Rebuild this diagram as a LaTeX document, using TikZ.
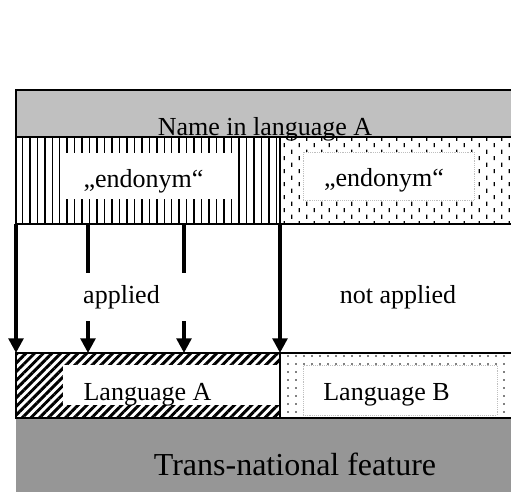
\documentclass[tikz,border=0pt]{standalone}
\usepackage{fontspec}
\setmainfont{Liberation Serif}
\usetikzlibrary{arrows.meta,patterns,patterns.meta}

\definecolor{barlight}{HTML}{C0C0C0}
\definecolor{bardark}{HTML}{969696}

% short staggered vertical dashes
\pgfdeclarepatternformonly{vdashes}{\pgfpointorigin}{\pgfpoint{11.2pt}{10pt}}{\pgfpoint{11.2pt}{10pt}}{
  \pgfsetlinewidth{1pt}
  \pgfpathmoveto{\pgfpoint{1pt}{0.6pt}}\pgfpathlineto{\pgfpoint{1pt}{3.8pt}}
  \pgfpathmoveto{\pgfpoint{6.6pt}{5.6pt}}\pgfpathlineto{\pgfpoint{6.6pt}{8.8pt}}
  \pgfusepath{stroke}}

\tikzset{
  cell/.style={draw=black, line width=1.6pt, anchor=north west, inner sep=0pt, outer sep=0pt},
  innerbox/.style={fill=white, anchor=north west, inner sep=0pt, outer sep=0pt},
  txt/.style={font=\fontsize{19.5}{22}\selectfont},
  lbl/.style={txt, anchor=base, inner sep=0pt},
  flow/.style={line width=2.6pt, -{Triangle[length=11pt,width=11pt]}},
  gapnode/.style={txt, inner sep=0pt, minimum height=36pt}
}

\begin{document}
\begin{tikzpicture}[x=0.75pt, y=-0.75pt]
        \useasboundingbox (0,0) rectangle (511,492);
        % 上部：名称
        \node[cell, fill=barlight, minimum width=374.25pt, minimum height=35.25pt] (namebar) at (16,90) {};
        \node[cell, pattern={Lines[angle=90,distance=5.6pt,line width=1.1pt]}, minimum width=198pt, minimum height=65.25pt] (endoA) at (16,137) {};
        \node[cell, pattern=vdashes, minimum width=176.25pt, minimum height=65.25pt] (endoB) at (280,137) {};
        \node[innerbox, minimum width=127.5pt, minimum height=34.5pt] (endoAin) at (63,153) {};
        \node[innerbox, draw=black!25, densely dotted, minimum width=128.25pt, minimum height=36pt] (endoBin) at (303,152) {};
        \node[lbl] (endoAlbl) at (143.5,187) {„endonym“};
        \node[lbl] (endoBlbl) at (384,186) {„endonym“};
        \node[lbl] (namelbl) at (265,136) {Name in language A};
        % 下部：语言
        \node[anchor=north west, fill=bardark, inner sep=0pt, minimum width=374.25pt, minimum height=57pt] (trans) at (16,418) {};
        \node[cell, pattern={Lines[angle=45,distance=4.6pt,line width=2.2pt]}, minimum width=198pt, minimum height=48.75pt] (langA) at (16,353) {};
        \node[cell, pattern={Dots[distance=6pt,radius=0.6pt]}, minimum width=176.25pt, minimum height=48.75pt] (langB) at (280,353) {};
        \node[innerbox, minimum width=162pt, minimum height=30pt] (langAin) at (63,365) {};
        \node[innerbox, draw=black!25, densely dotted, minimum width=145.5pt, minimum height=37.5pt] (langBin) at (303,365) {};
        \node[lbl] (langAlbl) at (147.5,400) {Language A};
        \node[lbl] (langBlbl) at (386.5,400) {Language B};
        \node[anchor=base, inner sep=0pt, font=\fontsize{24}{28}\selectfont] (translbl) at (295,475) {Trans-national feature};
        % 中间：箭头
        \node[gapnode] (applied) at (121.5,297) {applied};
        \node[gapnode] (notapplied) at (398,297) {not applied};
        \coordinate (s1) at (88,224);
        \coordinate (s2) at (184,224);
        \draw[flow] (endoA.south west) -- (langA.north west);
        \draw[flow] (endoA.south east) -- (langA.north east);
        \draw[line width=2.6pt] (s1) -- (s1 |- applied.north);
        \draw[flow] (s1 |- applied.south) -- (s1 |- langA.north);
        \draw[line width=2.6pt] (s2) -- (s2 |- applied.north);
        \draw[flow] (s2 |- applied.south) -- (s2 |- langA.north);
    \end{tikzpicture}
\end{document}
